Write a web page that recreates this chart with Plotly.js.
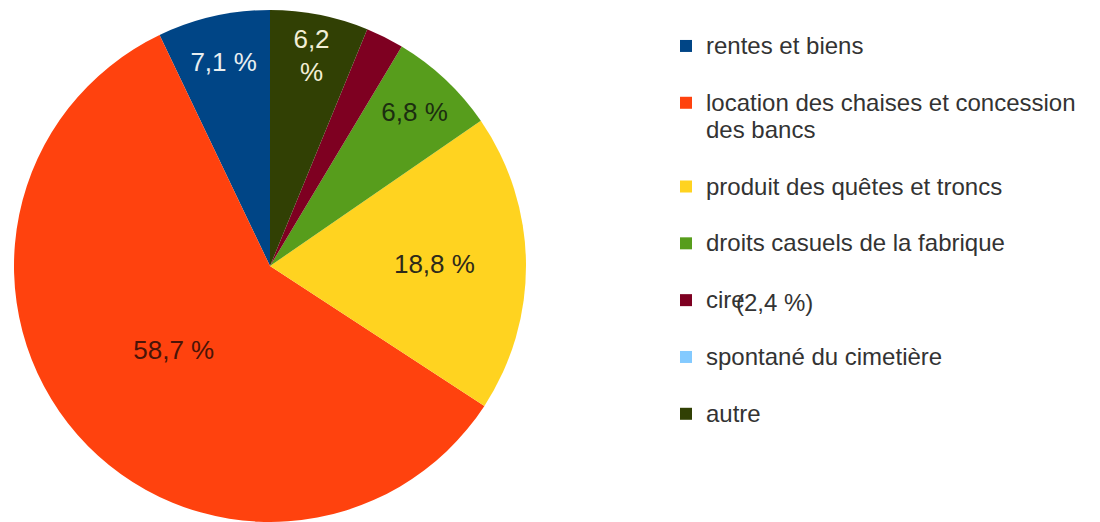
<!DOCTYPE html>
<html>
<head>
<meta charset="utf-8">
<script src="https://cdn.plot.ly/plotly-3.0.1.min.js"></script>
<style>
  html, body { margin: 0; padding: 0; background: #ffffff; }
  #chart { width: 1100px; height: 522px; }
</style>
</head>
<body>
<div id="chart"></div>
<script>
// ---- data ----
var categories = [
  "rentes et biens",
  "location des chaises et concession<br>des bancs",
  "produit des quêtes et troncs",
  "droits casuels de la fabrique",
  "cire",
  "spontané du cimetière",
  "autre"
];
var shares = [7.1, 58.7, 18.8, 6.8, 2.4, 0, 6.2];
var sliceColors = ["#004586", "#ff420e", "#ffd320", "#579d1c", "#7e0021", "#83caff", "#314004"];
var labelColors = ["#e8eef0", "#4a1408", "#2e2a1a", "#1c2e10", "#ffffff", "#000000", "#f2eed6"];
var labelJoin = [" ", " ", " ", " ", " ", " ", "<br>"];
var labelShown = ["inside", "inside", "inside", "inside", "none", "none", "inside"];

function fr(v) { return v.toFixed(1).replace(".", ","); }

var total = shares.reduce(function (a, b) { return a + b; }, 0);
var sliceText = shares.map(function (v, i) { return fr(v) + labelJoin[i] + "%"; });
var legendNames = categories.map(function (c) {
  return '<span style="font-size:24px">' + c + '</span><br>\u00a0';
});

var trace = {
  type: "pie",
  labels: legendNames,
  values: shares,
  text: sliceText,
  textinfo: "text",
  textposition: labelShown,
  insidetextorientation: "horizontal",
  insidetextfont: { family: "Liberation Sans, Arial, sans-serif", size: 26, color: labelColors },
  sort: false,
  direction: "counterclockwise",
  // first slice ends at 12 o'clock in plotly's ccw mode; shift so it starts there
  rotation: -shares[0] / total * 360,
  marker: { colors: sliceColors, line: { width: 0 } },
  domain: { x: [14 / 1100, 526 / 1100], y: [0, 512 / 522] },
  hoverinfo: "none"
};

var layout = {
  width: 1100,
  height: 522,
  margin: { l: 0, r: 0, t: 0, b: 0 },
  paper_bgcolor: "#ffffff",
  plot_bgcolor: "#ffffff",
  showlegend: true,
  font: { family: "Liberation Sans, Arial, sans-serif", color: "#333333" },
  legend: {
    x: 666 / 1100,
    xanchor: "left",
    y: 1 - 26 / 522,
    yanchor: "top",
    valign: "top",
    font: { family: "Liberation Sans, Arial, sans-serif", size: 20.7, color: "#333333" },
    bgcolor: "rgba(0,0,0,0)",
    borderwidth: 0,
    traceorder: "normal"
  },
  annotations: [{
    xref: "paper", yref: "paper",
    x: 774 / 1100, y: 1 - 302 / 522,
    xanchor: "center", yanchor: "middle",
    text: "(" + fr(shares[4]) + " %)",
    showarrow: false,
    font: { family: "Liberation Sans, Arial, sans-serif", size: 24, color: "#333333" }
  }]
};

Plotly.newPlot("chart", [trace], layout, { displayModeBar: false, staticPlot: true });
</script>
</body>
</html>
